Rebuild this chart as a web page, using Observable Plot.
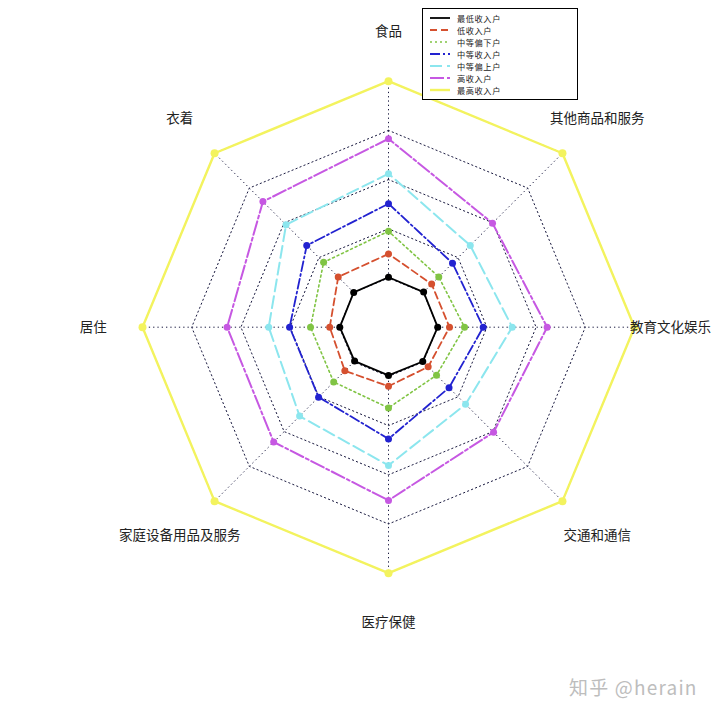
<!DOCTYPE html>
<html>
<head>
<meta charset="utf-8">
<script src="https://cdn.jsdelivr.net/npm/d3@7"></script>
<script src="https://cdn.jsdelivr.net/npm/@observablehq/plot@0.6"></script>
<style>
  html, body { margin: 0; padding: 0; background: #fff; }
  #wrap { position: relative; width: 720px; height: 716px; overflow: hidden; font-family: "Noto Sans CJK SC", "Noto Sans", sans-serif; }
  #legend { position: absolute; left: 422px; top: 8px; width: 156px; height: 92px; border: 1px solid #000; background: #fff; box-sizing: border-box; }
  .row { position: absolute; left: 0; height: 10px; display: flex; align-items: center; }
  .row svg { margin-left: 7px; }
  .row span { margin-left: 7px; font-size: 8.2px; color: #222; line-height: 10px; height: 10px; display: inline-block; letter-spacing: 0.6px; }
  #mark { position: absolute; left: 569px; top: 673px; font-size: 19px; color: #bdbdbd; letter-spacing: 1.2px; }
</style>
</head>
<body>
<div id="wrap"></div>
<script>
// Categories, counter-clockwise starting from the top
const categories = ["食品", "衣着", "居住", "家庭设备用品及服务", "医疗保健", "交通和通信", "教育文化娱乐", "其他商品和服务"];
const seriesNames = ["最低收入户", "低收入户", "中等偏下户", "中等收入户", "中等偏上户", "高收入户", "最高收入户"];

const lowest      = [0.203, 0.200, 0.198, 0.195, 0.196, 0.197, 0.200, 0.202];
const low         = [0.298, 0.289, 0.239, 0.251, 0.240, 0.228, 0.248, 0.248];
const lowerMiddle = [0.390, 0.373, 0.317, 0.315, 0.328, 0.276, 0.309, 0.289];
const middle      = [0.502, 0.470, 0.402, 0.402, 0.454, 0.348, 0.385, 0.368];
const upperMiddle = [0.624, 0.589, 0.487, 0.511, 0.562, 0.443, 0.503, 0.470];
const high        = [0.766, 0.722, 0.656, 0.660, 0.704, 0.604, 0.645, 0.598];
const highest     = [1.000, 1.000, 1.000, 1.000, 1.000, 1.000, 1.000, 1.000];

const gridLevels = [0.2, 0.4, 0.6, 0.8, 1.0];

const seriesValues = [lowest, low, lowerMiddle, middle, upperMiddle, high, highest];
const styles = [
  {color: "#000000", dash: null, width: 1.8, r: 3.5},
  {color: "#d5502f", dash: "7,4", width: 1.8, r: 3.5},
  {color: "#80c444", dash: "2,3", width: 1.6, r: 3.5},
  {color: "#2222d0", dash: "10,3,2,3", width: 1.8, r: 3.5},
  {color: "#8ce6ee", dash: "12,5", width: 2, r: 3.5},
  {color: "#c658e2", dash: "14,3,3,3", width: 2, r: 3.5},
  {color: "#f3f35e", dash: null, width: 2.4, r: 4}
];

const n = categories.length;
const ang = i => Math.PI / 2 + i * 2 * Math.PI / n;

// Build tables
const series = seriesNames.map((name, s) => {
  const pts = seriesValues[s].map((v, i) => ({name, i, v, x: v * Math.cos(ang(i)), y: v * Math.sin(ang(i))}));
  return {name, pts, closed: [...pts, pts[0]]};
});
const grid = gridLevels.flatMap(l => d3.range(n + 1).map(i => ({l, x: l * Math.cos(ang(i % n)), y: l * Math.sin(ang(i % n))})));
const spokes = d3.range(n).map(i => ({i}));
const labelR = 1.2;
const labels = categories.map((c, i) => ({c, i}));

// Scale setup (center / radius of the radar in the 720x716 frame)
const W = 720, H = 716, CX = 388, CY = 326.7, R = 246;

const marks = [
  Plot.line(grid, {x: "x", y: "y", z: "l", stroke: "#1a1a40", strokeWidth: 1, strokeDasharray: "1.3,3"}),
  Plot.link(spokes, {
    x1: d => gridLevels[0] * Math.cos(ang(d.i)), y1: d => gridLevels[0] * Math.sin(ang(d.i)),
    x2: d => gridLevels[gridLevels.length - 1] * Math.cos(ang(d.i)), y2: d => gridLevels[gridLevels.length - 1] * Math.sin(ang(d.i)),
    stroke: "#1a1a40", strokeWidth: 1, strokeDasharray: "1.3,3"
  })
];
series.forEach((s, k) => {
  const st = styles[k];
  marks.push(Plot.line(s.closed, {x: "x", y: "y", stroke: st.color, strokeWidth: st.width, strokeDasharray: st.dash, strokeLinejoin: "miter"}));
  marks.push(Plot.dot(s.pts, {x: "x", y: "y", r: st.r, fill: st.color, stroke: "none"}));
});
marks.push(Plot.text(labels, {
  x: d => d.i === 6 ? 1.146 : labelR * Math.cos(ang(d.i)),
  y: d => labelR * Math.sin(ang(d.i)),
  text: "c", fontSize: 13.5, fill: "#222", textAnchor: "middle",
  fontFamily: "'Noto Sans CJK SC', sans-serif"
}));

const chart = Plot.plot({
  width: W, height: H, margin: 0,
  style: {background: "transparent"},
  x: {domain: [-CX / R, (W - CX) / R], range: [0, W], axis: null},
  y: {domain: [-(H - CY) / R, CY / R], range: [H, 0], axis: null},
  marks
});

const wrap = document.getElementById("wrap");
wrap.appendChild(chart);

// Legend
const legend = document.createElement("div");
legend.id = "legend";
seriesNames.forEach((name, k) => {
  const st = styles[k];
  const row = document.createElement("div");
  row.className = "row";
  row.style.top = (3.5 + k * 12) + "px";
  row.innerHTML = `<svg width="20" height="6"><line x1="0" y1="3" x2="20" y2="3" stroke="${st.color}" stroke-width="${st.width}" ${st.dash ? `stroke-dasharray="${st.dash}"` : ""}/></svg><span>${name}</span>`;
  legend.appendChild(row);
});
wrap.appendChild(legend);

// Watermark
const mk = document.createElement("div");
mk.id = "mark";
mk.textContent = "知乎 @herain";
wrap.appendChild(mk);
</script>
</body>
</html>
